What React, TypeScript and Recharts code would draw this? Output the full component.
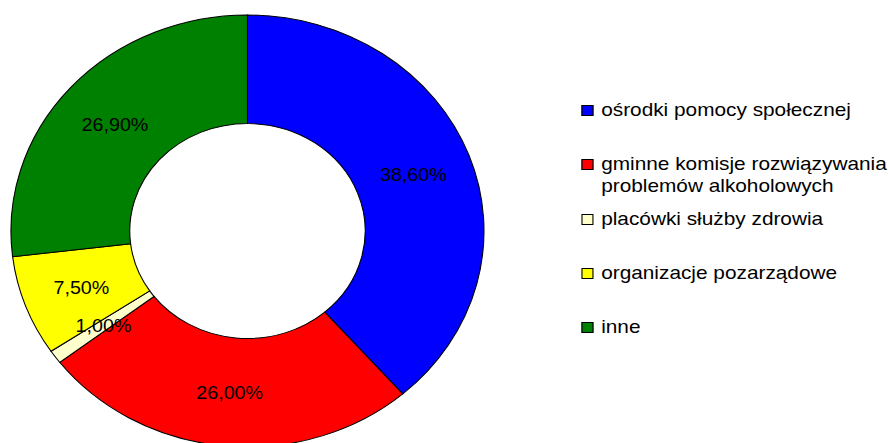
import React from 'react';
import { PieChart, Pie, Cell, Legend } from 'recharts';

const categories = [
  'ośrodki pomocy społecznej',
  'gminne komisje rozwiązywania problemów alkoholowych',
  'placówki służby zdrowia',
  'organizacje pozarządowe',
  'inne',
];
const legendLines = [
  ['ośrodki pomocy społecznej'],
  ['gminne komisje rozwiązywania', 'problemów alkoholowych'],
  ['placówki służby zdrowia'],
  ['organizacje pozarządowe'],
  ['inne'],
];
const values = [38.6, 26.0, 1.0, 7.5, 26.9];
const colors = ['#0000FF', '#FF0000', '#FFFFCC', '#FFFF00', '#008000'];

const data = categories.map((name, i) => ({ name, value: values[i] }));

const SX = 1.095;
const W = 888 / SX;
const H = 443;
const FONT = '"Liberation Sans", Arial, sans-serif';
const RADIAN = Math.PI / 180;

const fmt = (v: number) => v.toFixed(2).replace('.', ',') + '%';

const renderLabel = (props: any) => {
  const { cx, cy, midAngle, innerRadius, outerRadius, value } = props;
  const r = (innerRadius + outerRadius) / 2;
  const x = cx + r * Math.cos(-midAngle * RADIAN);
  const y = cy + r * Math.sin(-midAngle * RADIAN);
  return (
    <text
      x={x}
      y={y + 1}
      fill="#000"
      textAnchor="middle"
      dominantBaseline="central"
      style={{ fontFamily: FONT, fontSize: 18 }}
    >
      {fmt(value)}
    </text>
  );
};

const LegendContent = () => (
  <div style={{ fontFamily: FONT, fontSize: 19, color: '#000' }}>
    {legendLines.map((lines, i) => (
      <div
        key={i}
        style={{ position: 'absolute', left: 0, top: i * 54.3, display: 'flex', alignItems: 'flex-start' }}
      >
        <div
          style={{
            width: 9,
            height: 9,
            border: '1px solid #000',
            background: colors[i],
            marginTop: 5,
            marginRight: 7,
            flexShrink: 0,
          }}
        />
        <div style={{ lineHeight: '22px', whiteSpace: 'nowrap', marginTop: -1 }}>
          {lines.map((l, j) => (
            <div key={j}>{l}</div>
          ))}
        </div>
      </div>
    ))}
  </div>
);

export default function App() {
  return (
    <div style={{ position: 'absolute', left: 0, top: 0, width: 888, height: 443, overflow: 'hidden', background: '#fff' }}>
      <div style={{ transform: `scaleX(${SX})`, transformOrigin: '0 0', width: W, height: H }}>
        <PieChart width={W} height={H} margin={{ top: 0, right: 0, bottom: 0, left: 0 }}>
          <Pie
            data={data}
            dataKey="value"
            nameKey="name"
            cx={226}
            cy={231}
            innerRadius={107.5}
            outerRadius={216}
            startAngle={90}
            endAngle={-270}
            stroke="#000"
            strokeWidth={1}
            label={renderLabel}
            labelLine={false}
            isAnimationActive={false}
          >
            {data.map((d, i) => (
              <Cell key={d.name} fill={colors[i]} />
            ))}
          </Pie>
          <Legend
            content={<LegendContent />}
            wrapperStyle={{ position: 'absolute', left: 531, top: 100, width: 280, height: 0 }}
          />
        </PieChart>
      </div>
    </div>
  );
}
